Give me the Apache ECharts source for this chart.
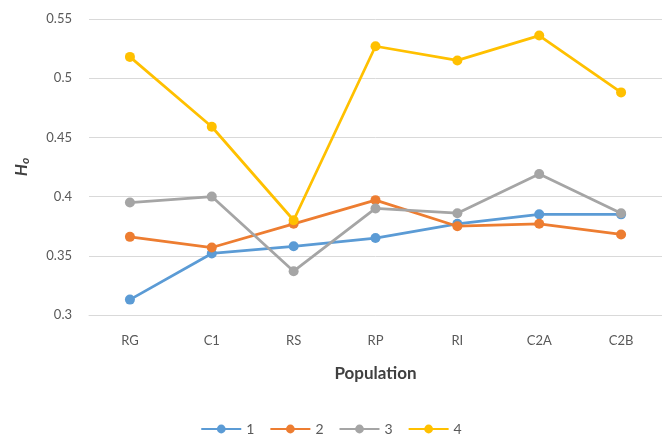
<!DOCTYPE html>
<html><head><meta charset="utf-8">
<script src="https://cdn.jsdelivr.net/npm/echarts@6/dist/echarts.min.js"></script>
<style>html,body{margin:0;padding:0;background:#fff}#c{width:662px;height:435px}</style>
</head><body><div id="c"></div>
<script>
var categories = ['RG','C1','RS','RP','RI','C2A','C2B'];
var s1 = [0.313,0.352,0.358,0.365,0.377,0.385,0.385];
var s2 = [0.366,0.357,0.377,0.397,0.375,0.377,0.368];
var s3 = [0.395,0.400,0.337,0.390,0.386,0.419,0.386];
var s4 = [0.518,0.459,0.380,0.527,0.515,0.536,0.488];
var seriesNames = ['1','2','3','4'];
var yTicks = [0.3,0.35,0.4,0.45,0.5,0.55];
var colors = ['#5B9BD5','#ED7D31','#A5A5A5','#FFC000'];
var font = 'Lato, "Open Sans", sans-serif';
var chart = echarts.init(document.getElementById('c'));
function mk(name, data, i){
  return {name:name,type:'line',data:data,symbol:'circle',symbolSize:10,
    lineStyle:{width:2.75,color:colors[i]},itemStyle:{color:colors[i]},z:2+i};
}
chart.setOption({
  animation:false,
  textStyle:{fontFamily:font},
  grid:{left:89,right:0,top:19,bottom:120,containLabel:false},
  xAxis:{type:'category',data:categories,boundaryGap:true,
    axisLine:{lineStyle:{color:'#D9D9D9',width:1}},axisTick:{show:false},
    axisLabel:{color:'#595959',fontSize:13,margin:19,fontFamily:font},
    name:'Population',nameLocation:'middle',nameGap:50,
    nameTextStyle:{color:'#404040',fontSize:17,fontWeight:'bold',fontFamily:font}},
  yAxis:{type:'value',min:yTicks[0],max:yTicks[yTicks.length-1],interval:0.05,
    axisLine:{show:false},axisTick:{show:false},
    splitLine:{lineStyle:{color:'#D9D9D9',width:1}},
    axisLabel:{color:'#595959',fontSize:13,margin:17,fontFamily:font,
      formatter:function(v){return String(Math.round(v*100)/100);}},
    name:'{h|H}{o|o}',nameLocation:'middle',nameGap:58,nameRotate:90,
    nameTextStyle:{rich:{
      h:{fontSize:17,fontWeight:'bold',fontStyle:'italic',color:'#404040',fontFamily:font},
      o:{fontSize:12,fontWeight:'bold',fontStyle:'italic',color:'#404040',fontFamily:font,verticalAlign:'bottom',padding:[7,0,0,0]}
    }}},
  legend:{data:seriesNames,top:417,left:'center',itemWidth:40,itemHeight:11,itemGap:15,
    textStyle:{color:'#595959',fontSize:14,fontFamily:font}},
  series:[mk(seriesNames[0],s1,0),mk(seriesNames[1],s2,1),mk(seriesNames[2],s3,2),mk(seriesNames[3],s4,3)]
});
</script></body></html>
